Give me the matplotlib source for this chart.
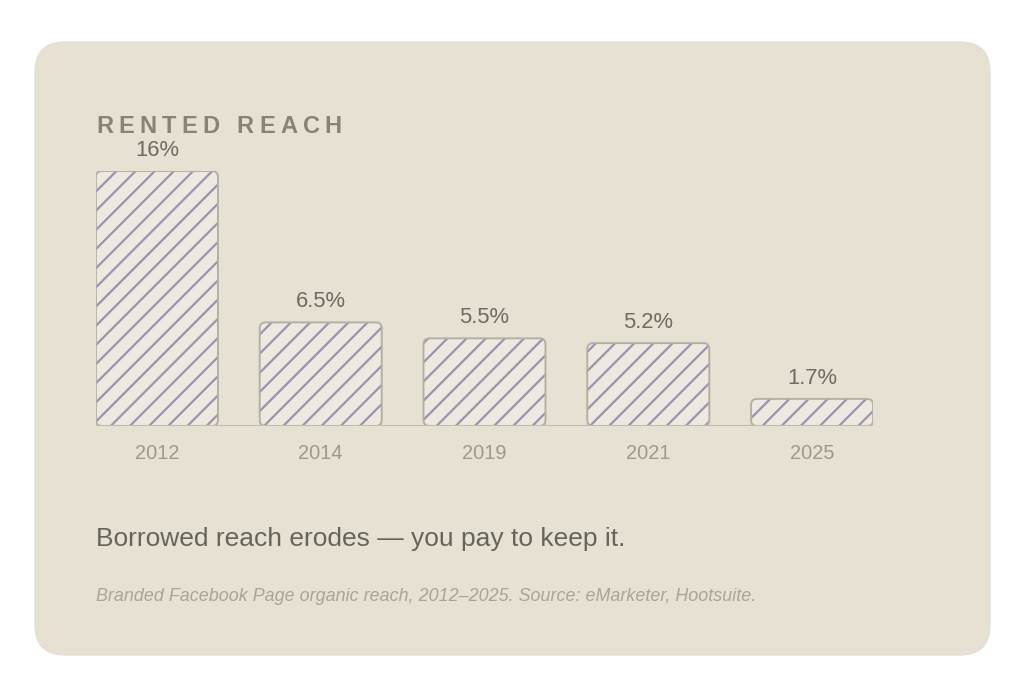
import matplotlib
matplotlib.use('Agg')
import matplotlib.pyplot as plt
from matplotlib.patches import FancyBboxPatch

# data
years = ['2012', '2014', '2019', '2021', '2025']
reach = [16.0, 6.5, 5.5, 5.2, 1.7]
value_labels = ['16%', '6.5%', '5.5%', '5.2%', '1.7%']

TITLE = 'RENTED REACH'
SUBTITLE = 'Borrowed reach erodes \u2014 you pay to keep it.'
NOTE = 'Branded Facebook Page organic reach, 2012\u20132025. Source: eMarketer, Hootsuite.'

DPI = 115
W, H = 1024, 696
PT = 72 / DPI  # points per pixel

CARD = '#e7e1d4'
BAR_FILL = '#ede9e1'
HATCH = '#9a94ad'
BAR_EDGE = '#b3afa3'
BASE = '#c0bbad'

plt.rcParams['font.family'] = ['Liberation Sans', 'DejaVu Sans']
plt.rcParams['hatch.linewidth'] = 1.4


def fx(px):
    return px / W


def fy(py):
    return 1 - py / H


fig = plt.figure(figsize=(W / DPI, H / DPI), dpi=DPI)
fig.patch.set_facecolor('white')

# card background
card = FancyBboxPatch((35 / DPI, (H - 655) / DPI), 955 / DPI, 613 / DPI,
                      boxstyle='round,pad=0,rounding_size=%f' % (30 / DPI),
                      transform=fig.dpi_scale_trans, facecolor=CARD,
                      edgecolor='#e4dfd3', lw=0.8, zorder=-1)
fig.patches.append(card)

# bar area
left, right, bottom, top = 96, 873, 426, 171
ax = fig.add_axes([fx(left), fy(bottom), fx(right) - fx(left), fy(top) - fy(bottom)])
ax.set_xlim(-0.372, len(years) - 1 + 0.372)
ax.set_ylim(0, 16)
ax.axis('off')
ax.patch.set_alpha(0)

xs = list(range(len(years)))
bars = ax.bar(xs, reach, width=0.745)

px_x = (right - left) / (ax.get_xlim()[1] - ax.get_xlim()[0])
px_y = (bottom - top) / 16.0
r = 6 / px_x
aspect = px_x / px_y

for b in bars:
    x0, y0, w, h = b.get_x(), b.get_y(), b.get_width(), b.get_height()
    b.remove()
    style = 'round,pad=0,rounding_size=%f' % r
    ax.add_patch(FancyBboxPatch((x0, y0), w, h, boxstyle=style, mutation_aspect=aspect,
                                facecolor=BAR_FILL, edgecolor=HATCH, lw=0, hatch='//', zorder=2))
    ax.add_patch(FancyBboxPatch((x0, y0), w, h, boxstyle=style, mutation_aspect=aspect,
                                fill=False, edgecolor=BAR_EDGE, lw=1.2, zorder=3))

ax.axhline(0, color=BASE, lw=1.3, zorder=4)

for x, v, lab, yr in zip(xs, reach, value_labels, years):
    ax.annotate(lab, (x, v), xytext=(0, 15 * PT), textcoords='offset points',
                ha='center', va='baseline', fontsize=13.8, color='#6e6b62',
                annotation_clip=False)
    ax.annotate(yr, (x, 0), xytext=(0, -33 * PT), textcoords='offset points',
                ha='center', va='baseline', fontsize=12.5, color='#9d998b',
                annotation_clip=False)

# letter-spaced title
renderer = fig.canvas.get_renderer()
title_kw = dict(fontsize=14.8, fontweight='bold', color='#878472', va='baseline')


def text_width(s):
    t = fig.text(0, 0, s + 'H', **title_kw)
    w1 = t.get_window_extent(renderer).width
    t.remove()
    t = fig.text(0, 0, 'H', **title_kw)
    w2 = t.get_window_extent(renderer).width
    t.remove()
    return w1 - w2


spacing = 5.3
for i, ch in enumerate(TITLE):
    if ch == ' ':
        continue
    xpos = 96 + text_width(TITLE[:i]) + i * spacing
    fig.text(fx(xpos), fy(133), ch, ha='left', **title_kw)

fig.text(fx(96), fy(546), SUBTITLE, fontsize=16.5, color='#67645c', va='baseline')
fig.text(fx(96), fy(601), NOTE, fontsize=11.2, color='#a8a497', style='italic', va='baseline')

fig.savefig('out.png', dpi=DPI, facecolor='white')
